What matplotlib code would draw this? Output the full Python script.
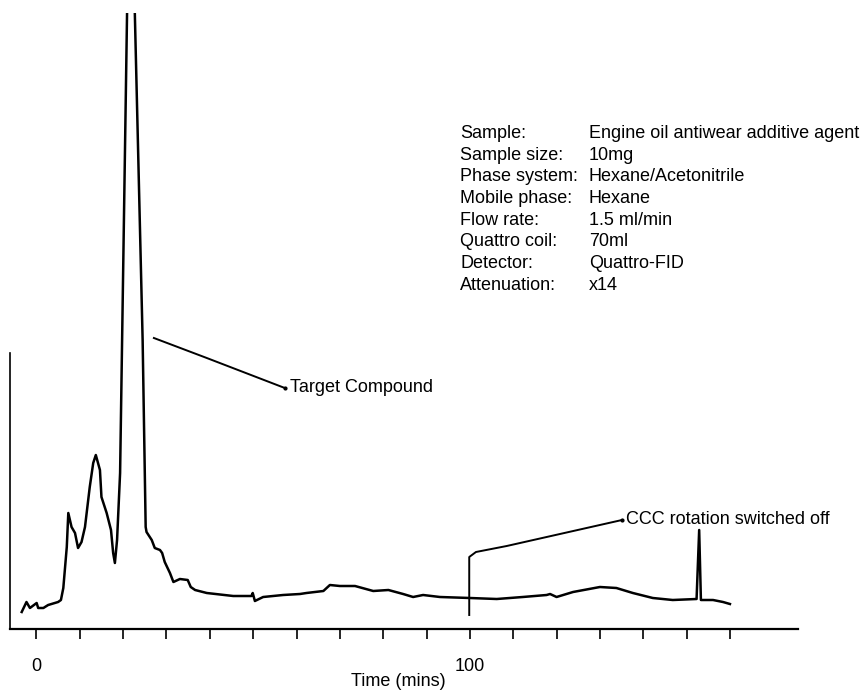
import matplotlib
matplotlib.use("Agg")
from matplotlib import pyplot as plt

# chromatogram trace (signal in arbitrary detector units)
time_min = [-3.4, -2.3, -1.5, 0.05, 0.4, 1.6, 2.7, 5.0, 5.65, 6.2, 7.0, 7.35,
            8.1, 8.9, 9.6, 10.4, 11.2, 12.3, 13.1, 13.7, 14.65, 15.0, 16.2,
            17.2, 17.7, 18.1, 18.6, 19.3, 21.6, 24.5, 25.2, 25.4, 26.6, 27.3,
            28.5, 29.0, 29.6, 30.8, 31.6, 33.1, 34.9, 35.6, 36.6, 39.3, 45.4,
            49.6, 49.9, 50.4, 52.3, 56.9, 60.8, 62.3, 66.2, 67.7, 70.0, 73.5,
            77.7, 81.2, 84.6, 86.9, 89.2, 93.1, 100.0, 106.2, 112.2, 117.7,
            118.5, 120.0, 123.8, 130.0, 133.8, 137.6, 142.2, 146.8, 152.3,
            152.9, 153.3, 156.1, 158.4, 160.0]
signal = [17, 27, 21, 26, 21, 21, 24, 27, 29, 41, 82, 116,
          102, 96, 81, 87, 102, 142, 166, 174, 159, 132, 116,
          99, 76, 66, 89, 156, 815, 289, 102, 97, 89, 81,
          79, 76, 67, 56, 47, 50, 49, 42, 39, 36, 33,
          33, 36, 28, 32, 34, 35, 36, 38, 44, 43, 43,
          38, 39, 35, 32, 34, 32, 31, 30, 32, 34,
          35, 32, 37, 42, 41, 36, 31, 29, 30,
          99, 29, 29, 27, 25]

x_ticks = list(range(0, 161, 10))
x_tick_labels = ["0" if t == 0 else "100" if t == 100 else "" for t in x_ticks]

info_labels = ["Sample:", "Sample size:", "Phase system:", "Mobile phase:",
               "Flow rate:", "Quattro coil:", "Detector:", "Attenuation:"]
info_values = ["Engine oil antiwear additive agent", "10mg", "Hexane/Acetonitrile",
               "Hexane", "1.5 ml/min", "70ml", "Quattro-FID", "x14"]

# leader lines for the two annotations
target_leader_t = [27.1, 39.3, 57.3]
target_leader_s = [291, 271, 241]
ccc_leader_t = [99.85, 99.85, 101.4, 108.5, 135.1]
ccc_leader_s = [14, 72, 77, 83, 109]

plt.rcParams["font.family"] = ["Liberation Sans", "DejaVu Sans"]
FS = 13

W, H = 868, 699
fig = plt.figure(figsize=(W / 100, H / 100), dpi=100)
ax = fig.add_axes([10 / W, 1 - 629 / H, 788 / W, 616 / H])

ax.plot(time_min, signal, color="black", lw=1.8, solid_joinstyle="round")
ax.plot(target_leader_t, target_leader_s, color="black", lw=1.4)
ax.plot(target_leader_t[-1], target_leader_s[-1], "o", color="black", ms=2)
ax.plot(ccc_leader_t, ccc_leader_s, color="black", lw=1.4)
ax.plot(ccc_leader_t[-1], ccc_leader_s[-1], "o", color="black", ms=2)

ax.text(58.6, 241, "Target Compound", fontsize=FS, va="center", ha="left")
ax.text(136.0, 110, "CCC rotation switched off", fontsize=FS, va="center", ha="left")

ax.set_xlim(-6.1, 175.7)
ax.set_ylim(0, 616)

ax.spines["top"].set_visible(False)
ax.spines["right"].set_visible(False)
ax.spines["left"].set_bounds(0, 276)
ax.spines["left"].set_linewidth(1.2)
ax.spines["bottom"].set_linewidth(1.6)

ax.set_yticks([])
ax.set_xticks(x_ticks)
ax.set_xticklabels(x_tick_labels, fontsize=FS)
ax.tick_params(axis="x", direction="out", length=7, width=1.2, pad=14)

ax.text((398 - 10) / 788, -(682 - 629) / 616, "Time (mins)", transform=ax.transAxes,
        fontsize=FS, ha="center", va="center")

for i, (lab, val) in enumerate(zip(info_labels, info_values)):
    y = 1 - (133.3 + 21.7 * i) / H
    fig.text(460 / W, y, lab, fontsize=FS, va="center", ha="left")
    fig.text(589 / W, y, val, fontsize=FS, va="center", ha="left")

fig.savefig("out.png", dpi=100)
